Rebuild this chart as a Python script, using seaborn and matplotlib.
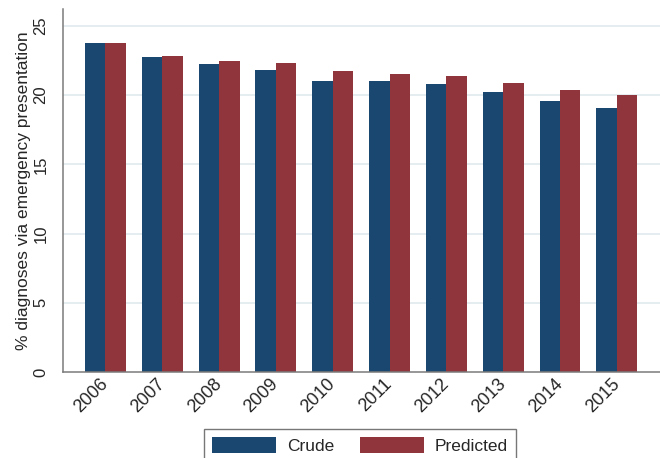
import numpy as np
import pandas as pd
import matplotlib.pyplot as plt
import seaborn as sns

# values
years = ['2006', '2007', '2008', '2009', '2010', '2011', '2012', '2013', '2014', '2015']
crude = [23.8, 22.75, 22.25, 21.85, 21.05, 21.0, 20.8, 20.2, 19.6, 19.1]
predicted = [23.8, 22.8, 22.45, 22.3, 21.75, 21.55, 21.35, 20.85, 20.35, 20.0]
series_names = ['Crude', 'Predicted']
colors = ['#1a476f', '#90353b']

df = pd.DataFrame({
    'year': years * 2,
    'value': crude + predicted,
    'series': [series_names[0]] * len(years) + [series_names[1]] * len(years),
})

sns.set_style('white')
plt.rcParams['font.family'] = ['Liberation Sans', 'DejaVu Sans']

fig = plt.figure(figsize=(6.6, 4.58), dpi=100)
ax = fig.add_axes([63 / 660, 1 - 372 / 458, 1 - 63 / 660, (372 - 9.3) / 458])

sns.barplot(data=df, x='year', y='value', hue='series', palette=colors,
            saturation=1, width=0.72, linewidth=0, legend=False, ax=ax)

ax.set_xlim(-0.748, 9.76)
ax.set_ylim(0, 26.2)
ax.set_yticks([0, 5, 10, 15, 20, 25])
ax.set_axisbelow(True)
for v in [5, 10, 15, 20, 25]:
    ax.axhline(v, color='#e3ecf0', lw=1.3, zorder=0)

for s in ['top', 'right']:
    ax.spines[s].set_visible(False)
for s in ['left', 'bottom']:
    ax.spines[s].set_color('#7a7a7a')
    ax.spines[s].set_linewidth(1.1)

ax.tick_params(axis='y', length=6.5, width=0.9, color='#7a7a7a', pad=4, labelsize=12)
ax.tick_params(axis='x', length=0, pad=6.5, labelsize=13)
for lab in ax.get_yticklabels():
    lab.set_rotation(90)
    lab.set_va('center')
for lab in ax.get_xticklabels():
    lab.set_rotation(45)
    lab.set_ha('right')
    lab.set_va('center')
    lab.set_rotation_mode('anchor')

ax.set_xlabel('')
ax.set_ylabel('% diagnoses via emergency presentation', fontsize=12.5, labelpad=2)

handles = [plt.Rectangle((0, 0), 1, 1, facecolor=c, edgecolor='none') for c in colors]
leg = fig.legend(handles, series_names, loc='upper center',
                 bbox_to_anchor=(360 / 660, 1 - 429.3 / 458), ncol=2, fontsize=12.5,
                 frameon=True, fancybox=False, handlelength=3.7, handleheight=1.0,
                 handletextpad=0.62, columnspacing=1.5, borderpad=0.46,
                 borderaxespad=0)
leg.get_frame().set_edgecolor('#555555')
leg.get_frame().set_linewidth(1.0)

fig.savefig('out.png', dpi=100)
